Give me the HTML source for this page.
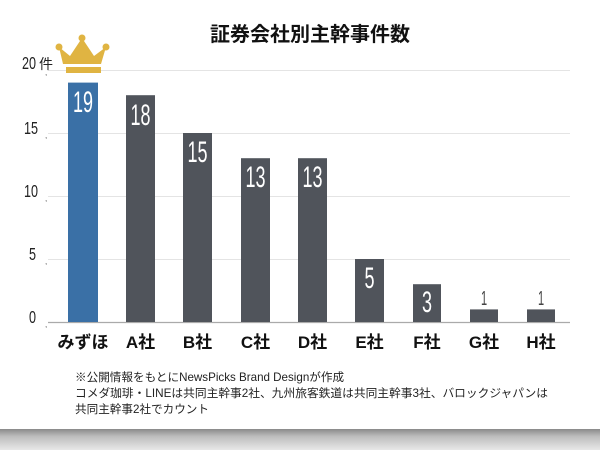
<!DOCTYPE html>
<html><head><meta charset="utf-8"><style>
html,body{margin:0;padding:0;background:#fff;}
svg{display:block;}
</style></head><body>
<svg width="600" height="450" xmlns="http://www.w3.org/2000/svg" font-family="'Liberation Sans','Noto Sans CJK JP',sans-serif">
<defs>
<linearGradient id="bg" x1="0" y1="0" x2="0" y2="1">
<stop offset="0" stop-color="#8a8a8a"/><stop offset="0.35" stop-color="#bdbdbd"/><stop offset="1" stop-color="#e8e8e8"/>
</linearGradient>
</defs>
<rect width="600" height="450" fill="#fff"/>
<rect y="429" width="600" height="21" fill="url(#bg)"/>
<text x="310" y="41" text-anchor="middle" font-size="20" font-weight="bold" fill="#111">証券会社別主幹事件数</text>
<g stroke="#e4e4e4" stroke-width="1">
<line x1="48" y1="70.5" x2="570" y2="70.5"/>
<line x1="48" y1="133.5" x2="570" y2="133.5"/>
<line x1="48" y1="196.5" x2="570" y2="196.5"/>
<line x1="48" y1="259.5" x2="570" y2="259.5"/>
</g>
<line x1="48" y1="322.5" x2="570" y2="322.5" stroke="#aaa" stroke-width="1.2"/>
<g font-size="18" fill="#222">
<text transform="translate(22,69) scale(0.7,1)">20</text>
<text x="39" y="69" font-size="14">件</text>
<text transform="translate(24,134) scale(0.7,1)">15</text>
<text transform="translate(24,197) scale(0.7,1)">10</text>
<text transform="translate(29,260) scale(0.7,1)">5</text>
<text transform="translate(29,323) scale(0.7,1)">0</text>
</g>
<g font-size="8" fill="#555">
<text x="45" y="75">,</text><text x="45" y="138">,</text><text x="45" y="201">,</text><text x="45" y="264">,</text><text x="45" y="327">,</text>
</g>
<g fill="#e0b442">
<circle cx="82" cy="38" r="3.5"/><circle cx="59" cy="47" r="3.5"/><circle cx="106" cy="47" r="3.5"/>
<polygon points="59,47 70,56 82,38 94,56 106,47 101,64 63,64"/>
<rect x="66" y="67" width="35" height="6"/>
</g>
<rect x="68" y="82.6" width="30" height="239.4" fill="#3a70a6"/>
<g fill="#50545b">
<rect x="126" y="95.2" width="29" height="226.8"/>
<rect x="183" y="133" width="29" height="189"/>
<rect x="241" y="158.2" width="29" height="163.8"/>
<rect x="298" y="158.2" width="29" height="163.8"/>
<rect x="355" y="259" width="29" height="63"/>
<rect x="413" y="284.2" width="28" height="37.8"/>
<rect x="470" y="309.4" width="28" height="12.6"/>
<rect x="527" y="309.4" width="28" height="12.6"/>
</g>
<g font-size="30" fill="#fff" text-anchor="middle">
<text transform="translate(83,112) scale(0.6,1)">19</text>
<text transform="translate(140.5,125) scale(0.6,1)">18</text>
<text transform="translate(197.5,162) scale(0.6,1)">15</text>
<text transform="translate(255.5,187) scale(0.6,1)">13</text>
<text transform="translate(312.5,187) scale(0.6,1)">13</text>
<text transform="translate(369.5,288) scale(0.6,1)">5</text>
<text transform="translate(427,312) scale(0.6,1)">3</text>
</g>
<g font-size="20" fill="#444" text-anchor="middle">
<text transform="translate(484,305) scale(0.55,1)">1</text>
<text transform="translate(541,305) scale(0.55,1)">1</text>
</g>
<g font-size="17" font-weight="bold" fill="#111" text-anchor="middle">
<text x="83" y="348">みずほ</text>
<text x="140.5" y="348">A社</text>
<text x="197.5" y="348">B社</text>
<text x="255.5" y="348">C社</text>
<text x="312.5" y="348">D社</text>
<text x="369.5" y="348">E社</text>
<text x="427" y="348">F社</text>
<text x="484" y="348">G社</text>
<text x="541" y="348">H社</text>
</g>
<g font-size="11.6" fill="#222">
<text x="75" y="381">※公開情報をもとにNewsPicks Brand Designが作成</text>
<text x="75" y="397" textLength="473" lengthAdjust="spacingAndGlyphs">コメダ珈琲・LINEは共同主幹事2社、九州旅客鉄道は共同主幹事3社、バロックジャパンは</text>
<text x="75" y="413">共同主幹事2社でカウント</text>
</g>
</svg>
</body></html>
